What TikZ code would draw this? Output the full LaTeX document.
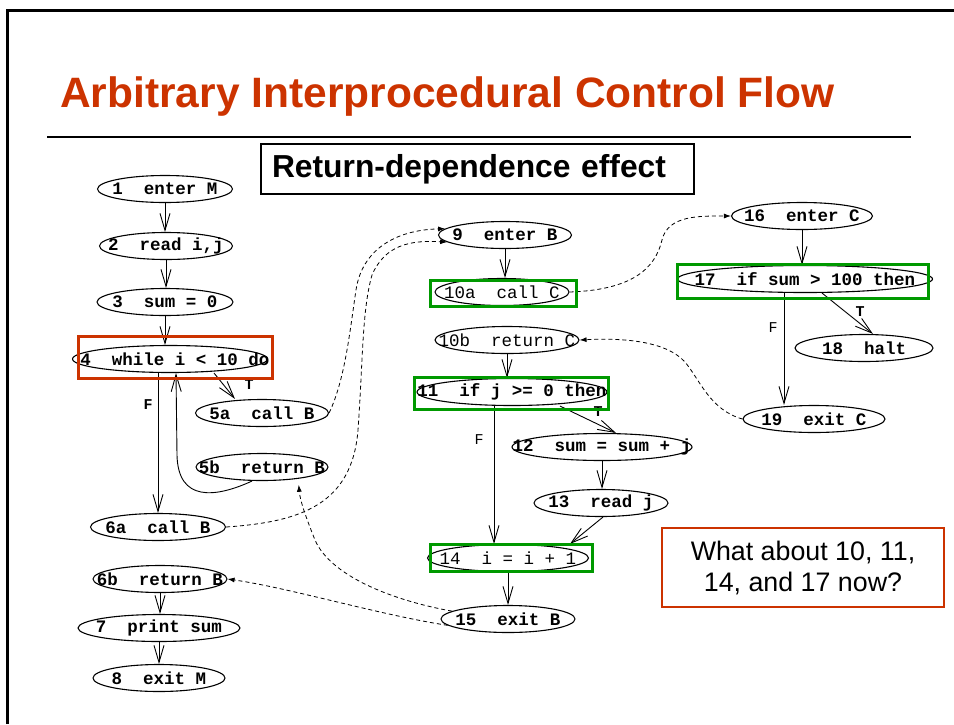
\documentclass[tikz,border=0pt]{standalone}
\usepackage{fontspec}
\setmainfont{Liberation Sans}
\newfontfamily\cour{Liberation Mono}
\usetikzlibrary{shapes.geometric,arrows.meta}
\definecolor{slidered}{RGB}{204,51,0}
\definecolor{markgreen}{RGB}{0,153,0}

\begin{document}
\begin{tikzpicture}[x=1pt,y=-1pt,
  stmt/.style={ellipse, draw, line width=1.1pt, minimum height=27pt, inner sep=0pt,
    font=\cour\bfseries\fontsize{17.5}{17.5}\selectfont},
  stmtlight/.style={stmt, font=\cour\fontsize{17.5}{17.5}\selectfont},
  flow/.style={draw, line width=0.9pt, -{Straight Barb[length=17pt,width=10pt]}},
  callret/.style={draw, line width=0.8pt, dash pattern=on 4pt off 3pt,
    -{Latex[length=7pt,width=5pt]}},
  edgelbl/.style={inner sep=0pt, font=\cour\bfseries\fontsize{15}{15}\selectfont},
  edgelbllight/.style={inner sep=0pt, font=\cour\fontsize{15}{15}\selectfont},
  redbox/.style={draw=slidered, line width=3pt},
  greenbox/.style={draw=markgreen, line width=3pt}]

\useasboundingbox (0,0) rectangle (954,724);

% slide frame, title and rule
\draw[line width=3pt] (7,724) -- (7,10) -- (954,10);
\node[anchor=base west, inner sep=0pt, text=slidered,
  font=\bfseries\fontsize{42.5}{42.5}\selectfont] (title) at (60,107)
  {Arbitrary Interprocedural Control Flow};
\draw[line width=2.2pt] (47,137) -- (911,137);

\node[draw, line width=1.2pt, minimum width=433pt, minimum height=50pt,
  text width=411pt, inner xsep=11pt, align=left,
  font=\bfseries\fontsize{31.8}{31.8}\selectfont] (sub) at (477.5,169)
  {Return-dependence effect};

% procedure M
\node[stmt, minimum width=135pt] (n1) at (165,189) {\makebox[0pt]{1~~enter M}};
\node[stmt, minimum width=133pt] (n2) at (166,246) {\makebox[0pt]{2~~read i,j}};
\node[stmt, minimum width=136pt] (n3) at (165,302) {\makebox[0pt]{3~~sum = 0}};
\node[stmt, minimum width=195pt] (n4) at (170,359) {\makebox[0pt]{\hspace*{10pt}4~~while i < 10 do}};
\node[stmt, minimum width=133pt] (n5a) at (262,413) {\makebox[0pt]{5a~~call B}};
\node[stmt, minimum width=132pt] (n5b) at (262,467) {\makebox[0pt]{5b~~return B}};
\node[stmt, minimum width=135pt] (n6a) at (158,527) {\makebox[0pt]{6a~~call B}};
\node[stmt, minimum width=134pt] (n6b) at (160,579) {\makebox[0pt]{6b~~return B}};
\node[stmt, minimum width=162pt] (n7) at (159,628) {\makebox[0pt]{7~~print sum}};
\node[stmt, minimum width=132pt] (n8) at (159,678) {\makebox[0pt]{8~~exit M}};

% procedure B
\node[stmt, minimum width=133pt] (n9) at (505,235) {\makebox[0pt]{9~~enter B}};
\node[stmtlight, minimum width=134pt] (n10a) at (502,292) {\makebox[0pt]{10a~~call C}};
\node[stmtlight, minimum width=144pt] (n10b) at (507,340) {\makebox[0pt]{10b~~return C}};
\node[stmt, minimum width=190pt] (n11) at (512,392) {\makebox[0pt]{11~~if j >= 0 then}};
\node[stmt, minimum width=180pt] (n12) at (602,447) {\makebox[0pt]{12~~sum = sum + j}};
\node[stmt, minimum width=134pt] (n13) at (601,503) {\makebox[0pt]{13~~read j}};
\node[stmtlight, minimum width=161pt] (n14) at (508,558) {\makebox[0pt]{14~~i = i + 1}};
\node[stmt, minimum width=134pt] (n15) at (508,619) {\makebox[0pt]{15~~exit B}};

% procedure C
\node[stmt, minimum width=141pt] (n16) at (802,216) {\makebox[0pt]{16~~enter C}};
\node[stmt, minimum width=255pt] (n17) at (805,279) {\makebox[0pt]{17~~if sum > 100 then}};
\node[stmt, minimum width=138pt] (n18) at (864,348) {\makebox[0pt]{18~~halt}};
\node[stmt, minimum width=142pt] (n19) at (814,419) {\makebox[0pt]{19~~exit C}};

% control flow in M
\draw[flow] (n1.south) -- (n1.south |- n2.north);
\draw[flow] (n2.south) -- (n2.south |- n3.north);
\draw[flow] (n3.south) -- (n3.south |- n4.north);
\draw[flow] (n4.south -| n6a) -- (n6a.north);
\draw[flow] ([xshift=44pt]n4.south) -- ([xshift=-27pt]n5a.north);
\draw[flow] ([xshift=-10pt]n5b.south) .. controls (215,498) and (178,502) .. (177,455)
  -- ([xshift=6pt]n4.south);
\draw[flow] (n6b.south) -- (n6b.south |- n7.north);
\draw[flow] (n7.south) -- (n7.south |- n8.north);
\node[edgelbl] (f4) at (148,405) {F};
\node[edgelbl] (t4) at (249,385) {T};

% control flow in B
\draw[flow] (n9.south) -- (n9.south |- n10a.north);
\draw[flow] (n10b.south) -- (n10b.south |- n11.north);
\draw[flow] ([xshift=-18pt]n11.south) -- ([xshift=-14pt]n14.north);
\draw[flow] ([xshift=48pt]n11.south) -- ([xshift=14pt]n12.north);
\draw[flow] (n12.south) -- (n12.south |- n13.north);
\draw[flow] ([xshift=2pt]n13.south) -- ([xshift=62pt]n14.north);
\draw[flow] (n14.south) -- (n14.south |- n15.north);
\node[edgelbllight] (f11) at (479,440) {F};
\node[edgelbl] (t11) at (598,412) {T};

% control flow in C
\draw[flow] (n16.south) -- (n16.south |- n17.north);
\draw[flow] ([xshift=-21pt]n17.south) -- ([xshift=-30pt]n19.north);
\draw[flow] ([xshift=17pt]n17.south) -- ([xshift=9pt]n18.north);
\node[edgelbllight] (f17) at (773,328) {F};
\node[edgelbl] (t17) at (860,312) {T};

% calls and returns
\draw[callret] (n5a.east) .. controls (345,380) and (350,330) .. (356,290)
  .. controls (362,250) and (395,230) .. (n9.174);
\draw[callret] (n6a.east) .. controls (300,522) and (352,505) .. (358,430)
  .. controls (363,360) and (362,310) .. (372,275)
  .. controls (385,245) and (410,240) .. (n9.187);
\draw[callret] (n10a.east) .. controls (630,290) and (655,270) .. (662,240)
  .. controls (668,215) and (700,216) .. (n16.west);
\draw[callret] (n19.west) .. controls (710,410) and (700,380) .. (685,362)
  .. controls (665,340) and (620,338) .. (n10b.east);
\draw[callret] (n15.186) .. controls (380,615) and (290,588) .. (n6b.east);
\draw[callret, shorten >=6pt] (n15.172) .. controls (390,600) and (330,575) .. (315,540)
  .. controls (305,515) and (300,500) .. (n5b.-18);

% highlighted statements
\draw[redbox] (78,336) rectangle (272,378);
\draw[greenbox] (430,280) rectangle (576,306);
\draw[greenbox] (414,377) rectangle (608,409);
\draw[greenbox] (430,544) rectangle (592,571);
\draw[greenbox] (677,264) rectangle (928,298);

% question
\node[draw=slidered, line width=2pt, minimum width=282pt, minimum height=79pt,
  align=center, font=\fontsize{26.8}{31}\selectfont] (q) at (803,567.5)
  {What about 10, 11,\\14, and 17 now?};
\end{tikzpicture}
\end{document}
